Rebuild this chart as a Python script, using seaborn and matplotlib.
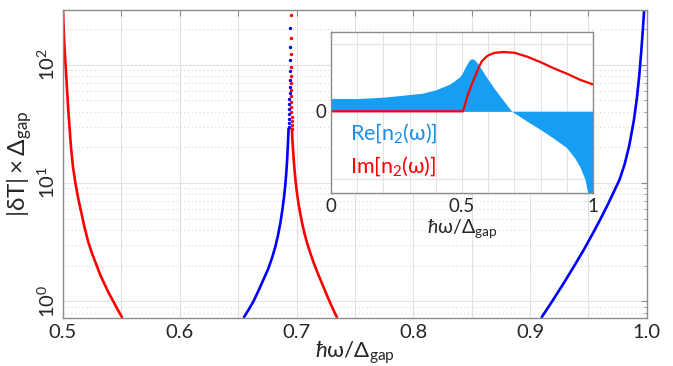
import numpy as np
import matplotlib
matplotlib.use("Agg")
import matplotlib.pyplot as plt
import matplotlib.ticker as mticker
import seaborn as sns

sns.set_style("white")
plt.rcParams['font.family'] = ['Lato', 'DejaVu Sans']
plt.rcParams['mathtext.fontset'] = 'custom'
plt.rcParams['mathtext.rm'] = 'Lato'
plt.rcParams['mathtext.it'] = 'Lato:italic'
plt.rcParams['mathtext.bf'] = 'Lato:bold'

# main panel: |dT| x gap vs hbar*omega/gap, branches
red_left_x = [0.5, 0.5003, 0.5010, 0.5023, 0.5045, 0.5068, 0.5085, 0.5106, 0.5128, 0.5151, 0.5183,
              0.5217, 0.5250, 0.5288, 0.5320, 0.5355, 0.5392, 0.5430, 0.5468, 0.5505]
red_left_y = [291, 240, 158, 96, 41.7, 20.3, 13.8, 10.0, 7.6, 5.97, 4.27,
              3.15, 2.51, 2.01, 1.66, 1.40, 1.17, 1.0, 0.85, 0.733]

blue_mid_x = [0.6932, 0.6929, 0.6924, 0.6918, 0.6911, 0.6903, 0.6893, 0.6880, 0.6863, 0.6842,
              0.6818, 0.6790, 0.6758, 0.6720, 0.6678, 0.6632, 0.6591, 0.6550]
blue_mid_y = [28.8, 24.5, 19.1, 14.8, 11.7, 9.44, 7.59, 6.03, 4.68, 3.63,
              2.88, 2.32, 1.88, 1.55, 1.25, 1.0, 0.851, 0.733]

red_mid_x = [0.6960, 0.6963, 0.6966, 0.6971, 0.6977, 0.6984, 0.6991, 0.7002, 0.7017, 0.7032, 0.7049,
             0.7069, 0.7091, 0.7117, 0.7145, 0.7178, 0.7214, 0.7248, 0.7282, 0.7313, 0.7345]
red_mid_y = [28.8, 25.1, 22.1, 18.6, 15.3, 12.6, 10.5, 8.51, 6.68, 5.50, 4.52,
             3.72, 3.09, 2.57, 2.14, 1.76, 1.445, 1.20, 1.0, 0.855, 0.733]

blue_right_x = [0.9100, 0.9190, 0.9290, 0.9380, 0.9460, 0.9540, 0.9610, 0.9670, 0.9720, 0.9767,
                0.9810, 0.9850, 0.9889, 0.9915, 0.9935, 0.9952, 0.9966, 0.9978]
blue_right_y = [0.733, 1.0, 1.43, 2.0, 2.72, 3.78, 5.11, 6.70, 8.53, 10.7,
                14.4, 20.8, 33.9, 52.1, 80.7, 128, 198, 299]

# sparse samples near the pole drawn as dots
blue_dot_x = [0.6946, 0.6945, 0.6944, 0.6943, 0.6942, 0.6941, 0.6940, 0.6939, 0.6938, 0.6937, 0.6936, 0.6935, 0.6934, 0.6933]
blue_dot_y = [205, 142, 110, 89, 74.6, 65.2, 58, 51.6, 46.9, 42.5, 38.6, 35, 32.4, 30]
red_dot_x = [0.6949, 0.6950, 0.6951, 0.6952, 0.6952, 0.6953, 0.6954, 0.6954, 0.6955, 0.6956, 0.6956, 0.6957, 0.6958, 0.6959, 0.6960]
red_dot_y = [264, 169, 124, 96, 80.7, 70.5, 61.5, 54.7, 48.7, 44.2, 40.1, 36.4, 33.7, 31.2, 28.8]

# inset: refractive index n2
re_x = [0, 0.1, 0.2, 0.3, 0.35, 0.4, 0.45, 0.47, 0.49, 0.5, 0.51, 0.52, 0.527, 0.535, 0.543, 0.55,
        0.56, 0.575, 0.59, 0.6, 0.625, 0.65, 0.67, 0.69, 0.75, 0.8, 0.85, 0.9, 0.93, 0.95, 0.97, 0.98, 1.0]
re_y = [0.19, 0.19, 0.21, 0.25, 0.27, 0.32, 0.40, 0.45, 0.51, 0.56, 0.64, 0.71, 0.755, 0.78, 0.775, 0.755,
        0.71, 0.62, 0.53, 0.47, 0.33, 0.20, 0.10, 0.0, -0.15, -0.27, -0.40, -0.54, -0.69, -0.82, -1.01, -1.21, -1.8]
im_x = [0, 0.503, 0.51, 0.52, 0.535, 0.55, 0.565, 0.575, 0.59, 0.6, 0.625, 0.66, 0.7, 0.75, 0.8, 0.85, 0.9, 0.95, 1.0]
im_y = [0, 0, 0.08, 0.22, 0.38, 0.52, 0.66, 0.74, 0.80, 0.83, 0.87, 0.88, 0.87, 0.81, 0.73, 0.64, 0.56, 0.47, 0.40]

RED = '#ff0000'
BLUE = '#0000ff'
FILL = '#169ef2'
SPINE = '#8c8c8c'
GRID = '#e3e3e3'
TXT = '#262626'

fig = plt.figure(figsize=(6.73, 3.66), dpi=100)
ax = fig.add_axes([0.0936, 0.131, 0.8675, 0.842])

for bx, by, c in [(red_left_x, red_left_y, RED), (blue_mid_x, blue_mid_y, BLUE),
                  (red_mid_x, red_mid_y, RED), (blue_right_x, blue_right_y, BLUE)]:
    sns.lineplot(x=bx, y=by, ax=ax, color=c, lw=1.9, sort=False, estimator=None)
sns.scatterplot(x=blue_dot_x, y=blue_dot_y, ax=ax, color=BLUE, s=6, linewidth=0)
sns.scatterplot(x=red_dot_x, y=red_dot_y, ax=ax, color=RED, s=6, linewidth=0)

ax.set_yscale('log')
ax.set_xlim(0.5, 1.0)
ax.set_ylim(0.72, 291)
ax.set_xticks(np.arange(0.5, 1.001, 0.05))
ax.set_xticklabels(['0.5', '', '0.6', '', '0.7', '', '0.8', '', '0.9', '', '1.0'])
ax.yaxis.set_minor_locator(mticker.LogLocator(base=10, subs=np.arange(2, 10)))
ax.yaxis.set_minor_formatter(mticker.NullFormatter())
ax.grid(True, which='major', color=GRID, lw=0.8, ls='-')
ax.grid(True, which='minor', axis='y', color='#cfcfcf', lw=0.7, ls=(0, (1, 3)))
ax.tick_params(which='both', direction='in', top=True, right=True, color=SPINE,
               labelsize=14.5, labelcolor=TXT)
ax.tick_params(axis='x', pad=4)
ax.tick_params(which='major', length=4)
ax.tick_params(which='minor', length=2.5)
for lab in ax.get_yticklabels():
    lab.set_rotation(90)
    lab.set_va('center')
for s in ax.spines.values():
    s.set_color(SPINE)
    s.set_linewidth(1.0)
ax.set_xlabel(r'$\hbar\mathrm{\omega}/\Delta_{\mathrm{gap}}$', fontsize=16, labelpad=-1, color=TXT)
ax.set_ylabel(r'$|\mathrm{\delta T}|\times\Delta_{\mathrm{gap}}$', fontsize=17.5, labelpad=2, color=TXT)

# inset
ins = fig.add_axes([0.492, 0.473, 0.389, 0.440])
ins.fill_between(re_x, 0, re_y, color=FILL, lw=0)
sns.lineplot(x=im_x, y=im_y, ax=ins, color=RED, lw=1.6, sort=False, estimator=None)
ins.set_xlim(0, 1)
ins.set_ylim(-1.21, 1.18)
ins.set_xticks(np.arange(0, 1.001, 0.1))
ins.set_xticklabels(['0', '', '', '', '', '0.5', '', '', '', '', '1'])
ins.set_yticks([-1, 0, 1])
ins.set_yticklabels(['', '0', ''])
ins.grid(True, color=GRID, lw=0.8)
ins.set_axisbelow(True)
ins.tick_params(direction='in', color=SPINE, length=3, labelsize=13.5, labelcolor=TXT)
for s in ins.spines.values():
    s.set_color(SPINE)
    s.set_linewidth(1.0)
ins.set_xlabel(r'$\hbar\mathrm{\omega}/\Delta_{\mathrm{gap}}$', fontsize=14, labelpad=2, color=TXT)
ins.text(0.072, 0.373, r'Re[n$_2$(ω)]', transform=ins.transAxes, color='#1a8fe6', fontsize=15.5,
         family=['Lato', 'DejaVu Sans'], va='center')
ins.text(0.072, 0.168, r'Im[n$_2$(ω)]', transform=ins.transAxes, color=RED, fontsize=15.5,
         family=['Lato', 'DejaVu Sans'], va='center')

fig.savefig('out.png', dpi=100)
